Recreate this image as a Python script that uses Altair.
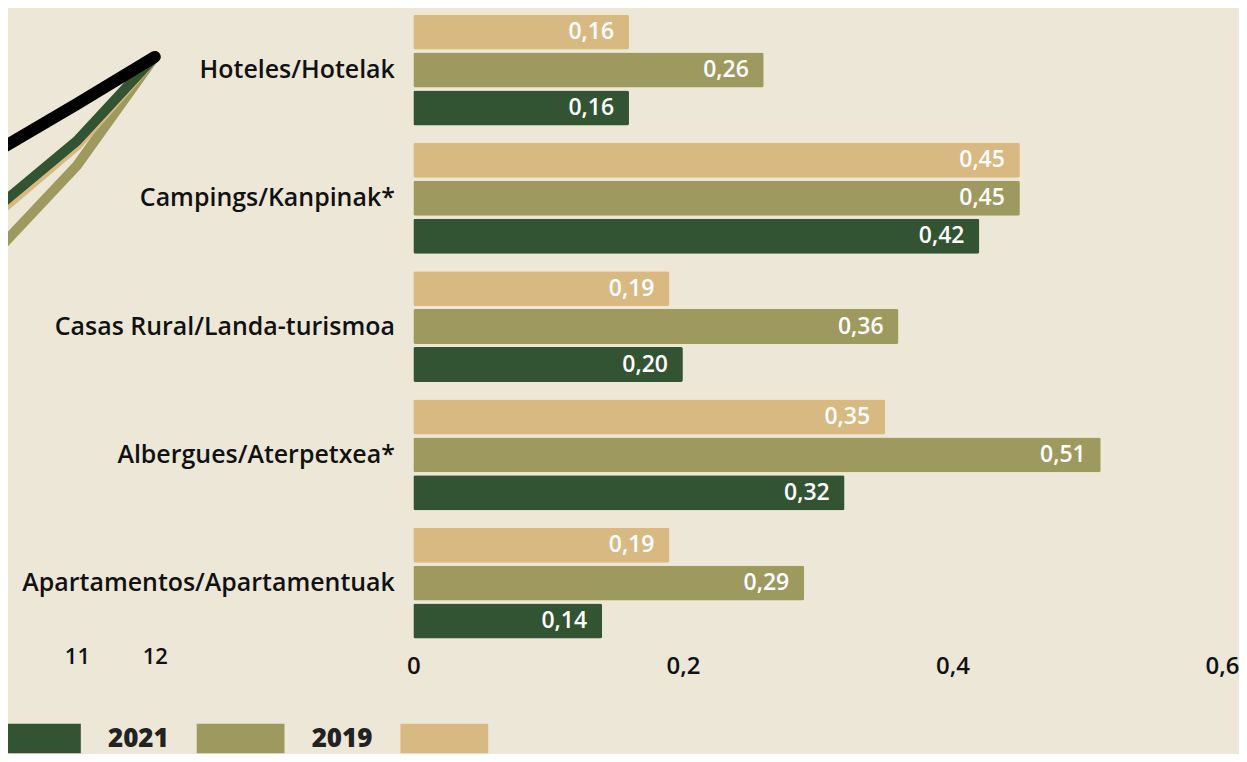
import altair as alt
import pandas as pd

# ---------------- data ----------------
categories = ["Hoteles/Hotelak", "Campings/Kanpinak*", "Casas Rural/Landa-turismoa",
              "Albergues/Aterpetxea*", "Apartamentos/Apartamentuak"]
years = ["2019", "2021", "2022"]
values_2019 = [0.16, 0.45, 0.19, 0.35, 0.19]
values_2021 = [0.26, 0.45, 0.36, 0.51, 0.29]
values_2022 = [0.16, 0.42, 0.20, 0.32, 0.14]
bar_ticks = [0, 0.2, 0.4, 0.6]

months = [10, 11, 12]
month_ticks = [10, 11, 12]
line_black = [77.8, 85.0, 92.4]
line_2022 = [69.0, 79.2, 92.4]
line_2019 = [68.1, 78.5, 92.4]
line_2021 = [62.3, 75.3, 92.4]

legend_years = ["2022", "2021", "2019"]
legend_labels_shown = ["2021", "2019"]   # the first label lies outside the visible area

palette = ["#d9b982", "#9e995e", "#335433"]  # 2019, 2021, 2022
BG = "#ede7d8"
FONT = "Open Sans"

# ---------------- tables ----------------
rows = []
for yr, vals in zip(years, [values_2019, values_2021, values_2022]):
    for c, v in zip(categories, vals):
        rows.append({"category": c, "year": yr, "value": v,
                     "label": f"{v:.2f}".replace(".", ",")})
bars_df = pd.DataFrame(rows)

lrows = []
for s, vals in zip(["black", "2022", "2019", "2021"], [line_black, line_2022, line_2019, line_2021]):
    for m, v in zip(months, vals):
        lrows.append({"series": s, "month": m, "value": v})
line_df = pd.DataFrame(lrows)

legend_df = pd.DataFrame({"year": legend_years,
                          "shown": [y in legend_labels_shown for y in legend_years]})

color_scale = alt.Scale(domain=years, range=palette)

PLOT_H = 637

# ---------------- line fragment ----------------
line_x = alt.X("month:Q", title=None,
               scale=alt.Scale(domain=[10.115, 12.205], nice=False, zero=False),
               axis=alt.Axis(values=month_ticks, format="d", grid=False, domain=False,
                             ticks=False, tickSize=0, labelPadding=2, labelFontSize=22,
                             labelFontWeight=600, labelColor="#111", labelFlush=False,
                             labelOverlap=False))
line_y = alt.Y("value:Q", scale=alt.Scale(domain=[0, 100], nice=False), axis=None)


def line_layer(series, color, width):
    return (alt.Chart(line_df)
            .transform_filter(alt.datum.series == series)
            .mark_line(clip=True, color=color, strokeWidth=width,
                       strokeCap="round", strokeJoin="round")
            .encode(x=line_x, y=line_y))


line_chart = alt.layer(
    line_layer("2021", palette[1], 10),
    line_layer("2019", palette[0], 10),
    line_layer("2022", palette[2], 10),
    line_layer("black", "#000000", 12),
).properties(width=163, height=PLOT_H)

# ---------------- bars ----------------
base = alt.Chart(bars_df).encode(
    y=alt.Y("category:N", sort=categories, title=None,
            scale=alt.Scale(paddingInner=0.136, paddingOuter=0.047),
            axis=alt.Axis(domain=False, ticks=False, labelPadding=19, labelFontSize=25,
                          labelFontWeight=600, labelColor="#111", labelLimit=600)),
    yOffset=alt.YOffset("year:N", sort=years,
                        scale=alt.Scale(paddingInner=0.079, paddingOuter=0)),
    x=alt.X("value:Q", title=None,
            scale=alt.Scale(domain=[0, 0.6], nice=False, zero=True),
            axis=alt.Axis(values=bar_ticks, grid=False, domain=False, ticks=False, tickSize=0,
                          labelPadding=10, labelFontSize=24, labelFontWeight=600,
                          labelColor="#111", labelFlush=False, labelOverlap=False,
                          labelExpr="replace(format(datum.value, '~g'), '.', ',')")),
)
bars = base.mark_bar(cornerRadius=2).encode(
    color=alt.Color("year:N", scale=color_scale, legend=None))
bar_labels = base.mark_text(align="right", baseline="middle", dx=-15, color="#ffffff",
                            fontSize=23, fontWeight=600).encode(text="label:N")
bar_chart = (bars + bar_labels).properties(width=810, height=PLOT_H)

# ---------------- legend ----------------
leg_scale = alt.Scale(range=[-15, 481], paddingInner=0.569, paddingOuter=0)
leg_rects = alt.Chart(legend_df).mark_rect(clip=True).encode(
    x=alt.X("year:N", sort=legend_years, axis=None, title=None, scale=leg_scale),
    color=alt.Color("year:N", scale=color_scale, legend=None))
leg_text = alt.Chart(legend_df).transform_filter("datum.shown").mark_text(
    clip=True, align="right", baseline="middle", dx=-28, dy=1,
    fontSize=26, fontWeight=800, color="#222222").encode(
    x=alt.X("year:N", sort=legend_years, axis=None, title=None, scale=leg_scale, bandPosition=0),
    text="year:N")
legend = (leg_rects + leg_text).properties(width=600, height=30)

top = alt.hconcat(line_chart, bar_chart, spacing=243, bounds="flush")
chart = (alt.vconcat(top, legend, spacing=45)
         .properties(padding=0, background=BG)
         .configure(font=FONT)
         .configure_view(stroke=None))

chart.save("out.html", embed_options={"renderer": "svg", "actions": False})
